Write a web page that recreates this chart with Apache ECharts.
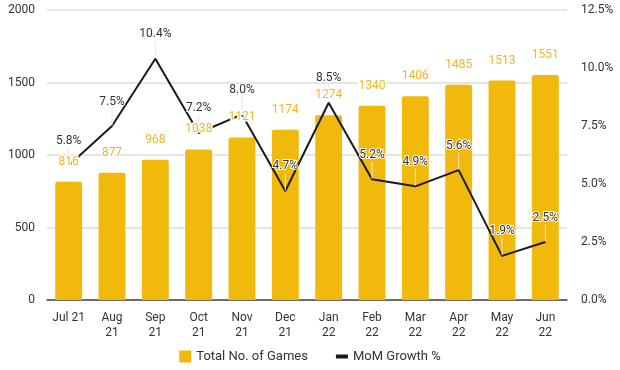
<!DOCTYPE html>
<html>
<head>
<meta charset="utf-8">
<script src="https://cdn.jsdelivr.net/npm/echarts@6/dist/echarts.min.js"></script>
<style>html,body{margin:0;padding:0;background:#fff;}#c{width:620px;height:370px;}</style>
</head>
<body>
<div id="c"></div>
<script>
const categories = ["Jul 21","Aug\n21","Sep\n21","Oct\n21","Nov\n21","Dec\n21","Jan\n22","Feb\n22","Mar\n22","Apr\n22","May\n22","Jun\n22"];
const totalGames = [816, 877, 968, 1038, 1121, 1174, 1274, 1340, 1406, 1485, 1513, 1551];
const momGrowth = [5.8, 7.5, 10.4, 7.2, 8.0, 4.7, 8.5, 5.2, 4.9, 5.6, 1.9, 2.5];
const leftTicks = {min: 0, max: 2000, interval: 500};
const rightTicks = {min: 0, max: 12.5, interval: 2.5};

const chart = echarts.init(document.getElementById('c'), null, {renderer: 'canvas'});
const font = 'Roboto, "Noto Sans", sans-serif';
chart.setOption({
  animation: false,
  textStyle: {fontFamily: font},
  grid: {left: 47, right: 53, top: 10, bottom: 70, containLabel: false},
  legend: {
    bottom: 2, left: 'center', itemGap: 28, itemWidth: 12, itemHeight: 12,
    textStyle: {fontSize: 13, color: '#333', fontFamily: font},
    data: [
      {name: 'Total No. of Games', icon: 'rect'},
      {name: 'MoM Growth %', icon: 'path://M0,0 L12,0 L12,4 L0,4 Z'}
    ]
  },
  xAxis: {
    type: 'category', data: categories,
    axisTick: {show: false},
    axisLine: {lineStyle: {color: '#444', width: 1.5}},
    axisLabel: {color: '#333', fontSize: 12, lineHeight: 15, margin: 10, interval: 0, fontFamily: font}
  },
  yAxis: [
    {type: 'value', min: leftTicks.min, max: leftTicks.max, interval: leftTicks.interval,
     axisLine: {show: false}, axisTick: {show: false},
     axisLabel: {color: '#333', fontSize: 12, margin: 12, fontFamily: font, formatter: v => String(v)},
     splitLine: {lineStyle: {color: '#dedede', width: 1.5}}},
    {type: 'value', min: rightTicks.min, max: rightTicks.max, interval: rightTicks.interval,
     axisLine: {show: false}, axisTick: {show: false},
     axisLabel: {color: '#333', fontSize: 12, margin: 14, fontFamily: font,
       formatter: v => v.toFixed(1) + '%'},
     splitLine: {show: false}}
  ],
  series: [
    {name: 'Total No. of Games', type: 'bar', data: totalGames, barWidth: '62%',
     itemStyle: {color: '#F0B90B', borderRadius: [2,2,0,0]},
     label: {show: false}},
    {name: 'MoM Growth %', type: 'line', yAxisIndex: 1, data: momGrowth,
     symbol: 'circle', symbolSize: 1, showSymbol: true,
     lineStyle: {color: '#1a1a1a', width: 2},
     itemStyle: {color: '#1a1a1a'},
     label: {show: true, position: 'top', distance: 0, color: '#333', fontSize: 12, fontFamily: font,
       textBorderColor: '#fff', textBorderWidth: 2,
       formatter: p => p.value.toFixed(1) + '%'},
     labelLayout: {dy: -18, hideOverlap: false},
     labelLine: {show: true, lineStyle: {color: '#e8e8e8', width: 1}},
     z: 5},
    {name: 'barLabels', type: 'bar', data: totalGames, barWidth: '62%', barGap: '-100%',
     itemStyle: {color: 'rgba(0,0,0,0)'}, silent: true, z: 10,
     label: {show: true, position: 'top', distance: 14, color: '#F2B620', fontSize: 12, fontFamily: font,
       textBorderColor: '#fff', textBorderWidth: 3}}
  ]
});
</script>
</body>
</html>
